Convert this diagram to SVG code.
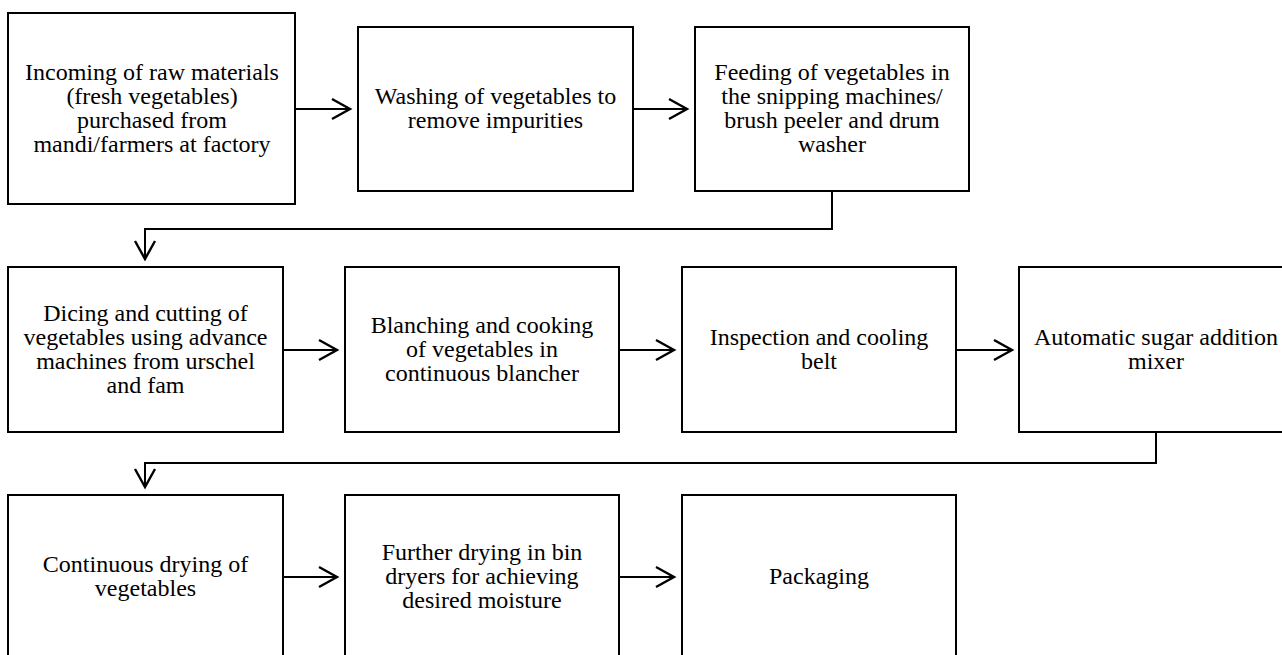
<svg xmlns="http://www.w3.org/2000/svg" width="1282" height="655" viewBox="0 0 1282 655">
<style>
.box{fill:#fff;stroke:#000;stroke-width:2}
.lbl{font-size:24px;fill:#000;text-anchor:middle}
.con{fill:none;stroke:#000;stroke-width:2}
</style>
<defs>
<marker id="arr" markerUnits="userSpaceOnUse" markerWidth="22" markerHeight="24" refX="18" refY="10" orient="auto" overflow="visible">
<path d="M0,0 L18,10 L0,20" fill="none" stroke="#000" stroke-width="2.4"/>
</marker>
</defs>
<rect width="1282" height="655" fill="#fff"/>
<g id="connectors">
<path class="con" d="M295,109 H350" marker-end="url(#arr)"/>
<path class="con" d="M633,109 H687" marker-end="url(#arr)"/>
<path class="con" d="M832,191 V229 H145 V259" marker-end="url(#arr)"/>
<path class="con" d="M283,350 H337" marker-end="url(#arr)"/>
<path class="con" d="M619,350 H674" marker-end="url(#arr)"/>
<path class="con" d="M956,350 H1012" marker-end="url(#arr)"/>
<path class="con" d="M1156,432 V463 H145 V487" marker-end="url(#arr)"/>
<path class="con" d="M283,577 H337" marker-end="url(#arr)"/>
<path class="con" d="M619,577 H674" marker-end="url(#arr)"/>
</g>
<g font-family="'Liberation Serif', 'Times New Roman', Tinos, 'DejaVu Serif', serif">
<g id="n1">
<rect class="box" x="8" y="13" width="287" height="191"/>
<text class="lbl" x="152" y="80">Incoming of raw materials</text>
<text class="lbl" x="152" y="104">(fresh vegetables)</text>
<text class="lbl" x="152" y="128">purchased from</text>
<text class="lbl" x="152" y="152">mandi/farmers at factory</text>
</g>
<g id="n2">
<rect class="box" x="358" y="27" width="275" height="164"/>
<text class="lbl" x="495.5" y="104">Washing of vegetables to</text>
<text class="lbl" x="495.5" y="128">remove impurities</text>
</g>
<g id="n3">
<rect class="box" x="695" y="27" width="274" height="164"/>
<text class="lbl" x="832" y="80">Feeding of vegetables in</text>
<text class="lbl" x="832" y="104">the snipping machines/</text>
<text class="lbl" x="832" y="128">brush peeler and drum</text>
<text class="lbl" x="832" y="152">washer</text>
</g>
<g id="n4">
<rect class="box" x="8" y="267" width="275" height="165"/>
<text class="lbl" x="145.5" y="321">Dicing and cutting of</text>
<text class="lbl" x="145.5" y="345">vegetables using advance</text>
<text class="lbl" x="145.5" y="369">machines from urschel</text>
<text class="lbl" x="145.5" y="393">and fam</text>
</g>
<g id="n5">
<rect class="box" x="345" y="267" width="274" height="165"/>
<text class="lbl" x="482" y="332.5">Blanching and cooking</text>
<text class="lbl" x="482" y="356.5">of vegetables in</text>
<text class="lbl" x="482" y="380.5">continuous blancher</text>
</g>
<g id="n6">
<rect class="box" x="682" y="267" width="274" height="165"/>
<text class="lbl" x="819" y="344.5">Inspection and cooling</text>
<text class="lbl" x="819" y="368.5">belt</text>
</g>
<g id="n7">
<rect class="box" x="1019" y="267" width="274" height="165"/>
<text class="lbl" x="1156" y="344.5">Automatic sugar addition</text>
<text class="lbl" x="1156" y="368.5">mixer</text>
</g>
<g id="n8">
<rect class="box" x="8" y="495" width="275" height="164"/>
<text class="lbl" x="145.5" y="572">Continuous drying of</text>
<text class="lbl" x="145.5" y="596">vegetables</text>
</g>
<g id="n9">
<rect class="box" x="345" y="495" width="274" height="164"/>
<text class="lbl" x="482" y="560">Further drying in bin</text>
<text class="lbl" x="482" y="584">dryers for achieving</text>
<text class="lbl" x="482" y="608">desired moisture</text>
</g>
<g id="n10">
<rect class="box" x="682" y="495" width="274" height="164"/>
<text class="lbl" x="819" y="584">Packaging</text>
</g>
</g>
</svg>
